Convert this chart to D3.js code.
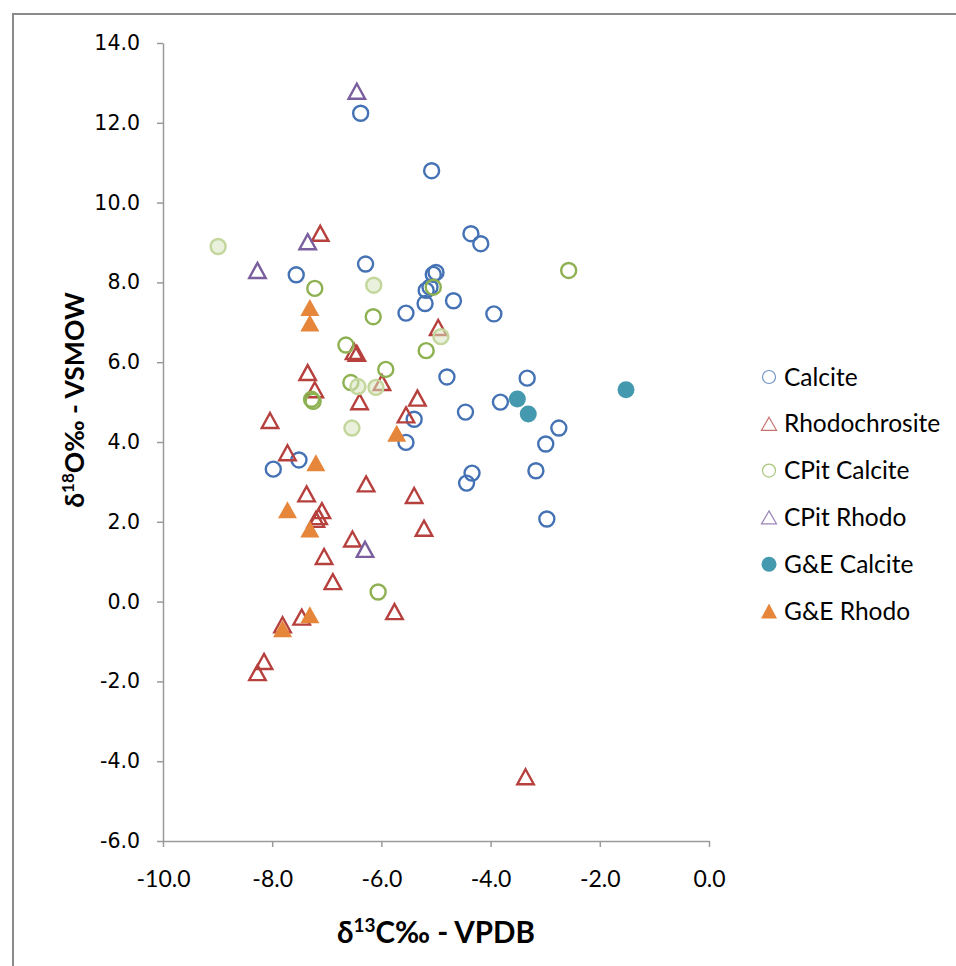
<!DOCTYPE html>
<html lang="en">
<head>
  <meta charset="UTF-8">
  <title>d13C vs d18O</title>
  <style>
    body { margin: 0; background: #fff; }
    svg { display: block; }
  </style>
</head>
<body>
<svg width="956" height="966"></svg>

<script src="https://cdn.jsdelivr.net/npm/d3@7/dist/d3.min.js"></script>
<script>
  // data: [d13C, d18O]
  var calcite = [[-6.38,12.24],[-5.08,10.80],[-4.36,9.22],[-4.18,8.97],[-7.56,8.19],[-6.29,8.46],
    [-5.05,8.20],[-5.00,8.25],[-5.18,7.80],[-5.11,7.88],[-5.20,7.47],[-4.68,7.54],[-5.55,7.23],
    [-3.94,7.21],[-4.80,5.63],[-3.33,5.60],[-3.82,5.00],[-4.46,4.75],[-2.75,4.35],[-2.99,3.95],
    [-5.40,4.57],[-5.55,3.99],[-7.51,3.55],[-7.98,3.32],[-3.17,3.28],[-4.34,3.22],[-4.44,2.97],[-2.97,2.07]];
  var rhodochrosite = [[-7.12,9.23],[-4.96,6.87],[-6.50,6.27],[-6.45,6.22],[-7.35,5.74],[-7.22,5.31],
    [-5.99,5.49],[-6.40,5.01],[-5.34,5.10],[-5.55,4.68],[-8.04,4.54],[-7.72,3.73],[-6.28,2.95],
    [-7.37,2.70],[-5.40,2.66],[-7.09,2.28],[-7.15,2.13],[-7.20,2.06],[-5.22,1.84],[-6.53,1.57],
    [-7.05,1.13],[-6.89,0.50],[-5.76,-0.25],[-7.46,-0.39],[-7.81,-0.58],[-8.15,-1.50],[-8.27,-1.78],[-3.36,-4.39]];
  var cpitCalcite = [[-2.57,8.30],[-7.22,7.85],[-6.15,7.14],[-5.05,7.88],[-6.65,6.43],[-5.18,6.29],
    [-5.92,5.82],[-7.28,5.07],[-7.25,5.02],[-6.56,5.49],[-6.06,0.24]];
  var cpitCalcitePale = [[-8.99,8.90],[-6.14,7.93],[-4.91,6.64],[-6.43,5.39],[-6.10,5.37],[-6.54,4.35]];
  var cpitRhodo = [[-6.45,12.79],[-8.27,8.30],[-7.35,9.02],[-6.30,1.31]];
  var geCalcite = [[-3.51,5.08],[-3.31,4.70],[-1.52,5.31]];
  var geRhodo = [[-7.31,7.37],[-7.31,6.98],[-5.72,4.22],[-7.20,3.48],[-7.72,2.30],[-7.31,1.82],[-7.31,-0.33],[-7.81,-0.68]];

  var xTicks = [-10, -8, -6, -4, -2, 0];
  var yTicks = [-6, -4, -2, 0, 2, 4, 6, 8, 10, 12, 14];

  var series = [
    {name: 'Calcite', data: calcite, shape: 'circle', stroke: '#4472B4', fill: 'none', legend: true},
    {name: 'Rhodochrosite', data: rhodochrosite, shape: 'tri', stroke: '#B6403D', fill: 'none', legend: true},
    {name: 'CPit Calcite', data: cpitCalcite, shape: 'circle', stroke: '#8DB150', fill: 'none', legend: true},
    {name: '', data: cpitCalcitePale, shape: 'circle', stroke: '#C3D69B', fill: 'rgba(215,228,189,0.55)', legend: false},
    {name: 'CPit Rhodo', data: cpitRhodo, shape: 'tri', stroke: '#7A5E9E', fill: 'none', legend: true},
    {name: 'G&E Calcite', data: geCalcite, shape: 'circle', stroke: '#4599AF', fill: '#4599AF', legend: true},
    {name: 'G&E Rhodo', data: geRhodo, shape: 'tri', stroke: '#E6863A', fill: '#E6863A', legend: true}
  ];

  var svg = d3.select('svg');
  var xScale = d3.scaleLinear().domain([-10, 0]).range([163, 709]);
  var yScale = d3.scaleLinear().domain([-6, 14]).range([841, 43]);

  // chart frame (only top & left edges show)
  svg.append('rect').attr('x', 13).attr('y', 14).attr('width', 1000).attr('height', 1000)
    .attr('fill', 'none').attr('stroke', '#8a8a8a').attr('stroke-width', 2);

  var fmt = function (d) { return d.toFixed(1); };

  var yAxis = d3.axisLeft(yScale).tickValues(yTicks).tickFormat(fmt).tickSizeInner(6).tickSizeOuter(0).tickPadding(17);
  var gy = svg.append('g').attr('transform', 'translate(' + xScale(-10) + ',0)').call(yAxis);
  gy.selectAll('text').attr('font-family', 'DejaVu Sans').attr('font-size', 20.5).attr('fill', '#000');

  var xAxis = d3.axisBottom(xScale).tickValues(xTicks).tickFormat(fmt).tickSizeInner(6).tickSizeOuter(0).tickPadding(24);
  var gx = svg.append('g').attr('transform', 'translate(0,' + yScale(-6) + ')').call(xAxis);
  gx.selectAll('text').attr('font-family', 'Lato').attr('font-size', 23).attr('fill', '#000');

  svg.selectAll('.domain, .tick line').attr('stroke', '#9a9a9a').attr('stroke-width', 1.5);

  // triangle path centred on bounding box
  function tri(w, h) {
    return 'M0,' + (-h / 2) + 'L' + (w / 2) + ',' + (h / 2) + 'L' + (-w / 2) + ',' + (h / 2) + 'Z';
  }

  series.forEach(function (s) {
    var g = svg.append('g');
    var filled = s.fill !== 'none' && s.legend;
    if (s.shape === 'circle') {
      g.selectAll('circle').data(s.data).enter().append('circle')
        .attr('cx', function (d) { return xScale(d[0]); })
        .attr('cy', function (d) { return yScale(d[1]); })
        .attr('r', filled ? 8.5 : 7.5)
        .attr('fill', s.fill)
        .attr('stroke', s.stroke)
        .attr('stroke-width', filled ? 0 : 2.4);
    } else {
      g.selectAll('path').data(s.data).enter().append('path')
        .attr('transform', function (d) { return 'translate(' + xScale(d[0]) + ',' + yScale(d[1]) + ')'; })
        .attr('d', filled ? tri(19, 17) : tri(16.5, 15))
        .attr('fill', s.fill)
        .attr('stroke', s.stroke)
        .attr('stroke-width', filled ? 0 : 2.4)
        .attr('stroke-linejoin', 'miter');
    }
  });

  // legend
  var legend = svg.append('g').attr('transform', 'translate(769,377)');
  var items = legend.selectAll('g').data(series.filter(function (s) { return s.legend; })).enter().append('g')
    .attr('transform', function (d, i) { return 'translate(0,' + (i * 46.8) + ')'; });
  items.each(function (s) {
    var it = d3.select(this);
    var filled = s.fill !== 'none';
    if (s.shape === 'circle') {
      it.append('circle').attr('r', filled ? 7.5 : 6.5)
        .attr('fill', filled ? s.fill : 'none')
        .attr('stroke', filled ? 'none' : s.stroke).attr('stroke-width', 1.2).attr('stroke-opacity', 0.75);
    } else {
      it.append('path').attr('d', filled ? tri(16, 15) : tri(15, 13))
        .attr('fill', filled ? s.fill : 'none')
        .attr('stroke', filled ? 'none' : s.stroke).attr('stroke-width', 1.2).attr('stroke-opacity', 0.75);
    }
  });
  items.append('text').attr('x', 15).attr('dy', '0.35em')
    .attr('font-family', 'Lato').attr('font-size', 24.5).attr('fill', '#000')
    .text(function (d) { return d.name; });

  // axis titles
  var xt = svg.append('text').attr('x', 436).attr('y', 943).attr('text-anchor', 'middle')
    .attr('font-family', 'Lato').attr('font-weight', 'bold').attr('font-size', 29.5).attr('fill', '#000');
  xt.append('tspan').text('δ');
  xt.append('tspan').attr('font-size', 19).attr('dy', -11).text('13');
  xt.append('tspan').attr('dy', 11).text('C‰ - VPDB');

  var yt = svg.append('text').attr('transform', 'translate(84,400) rotate(-90)').attr('text-anchor', 'middle')
    .attr('font-family', 'Lato').attr('font-weight', 'bold').attr('font-size', 26.5).attr('fill', '#000');
  yt.append('tspan').text('δ');
  yt.append('tspan').attr('font-size', 17).attr('dy', -10).text('18');
  yt.append('tspan').attr('dy', 10).text('O‰ - VSMOW');
</script>
</body>
</html>
